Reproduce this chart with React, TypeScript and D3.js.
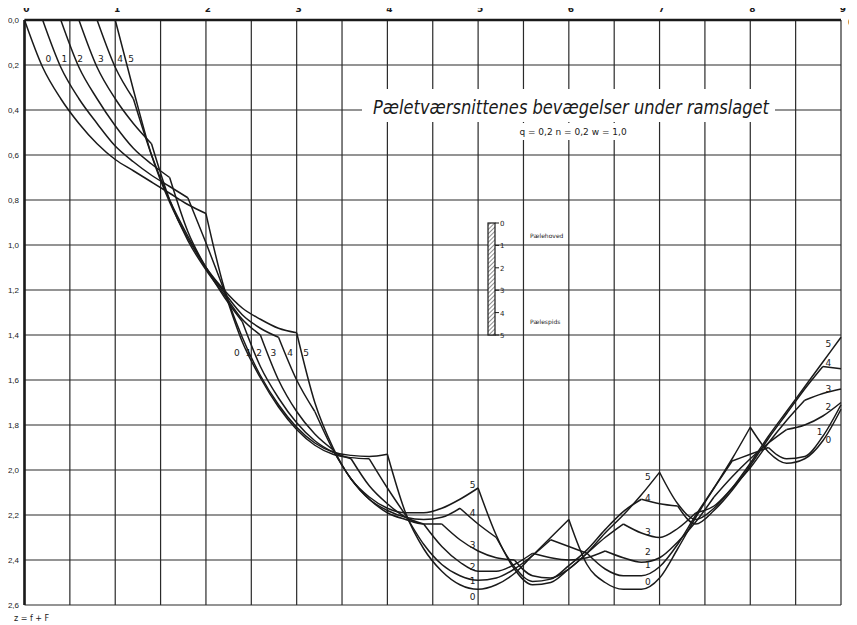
import React from 'react';
import * as d3 from 'd3';

// time axis (top) and displacement axis (left)
const xTickLabels = ['0', '1', '2', '3', '4', '5', '6', '7', '8', '9'];
const yTickLabels = ['0.0', '0.2', '0.4', '0.6', '0.8', '1.0', '1.2', '1.4', '1.6', '1.8', '2.0', '2.2', '2.4', '2.6'];

// z for each section, read every 0.2 time units from its start time
const sec0Z = [0, 0.21, 0.35, 0.46, 0.55, 0.62, 0.67, 0.72, 0.77, 0.82, 0.86,
  1.19, 1.41, 1.58, 1.71, 1.81, 1.88, 1.92, 1.935, 1.94, 1.93,
  2.19, 2.35, 2.45, 2.51, 2.53, 2.51, 2.46, 2.38, 2.30, 2.22,
  2.42, 2.50, 2.53, 2.53, 2.48, 2.35, 2.21, 2.08, 1.95, 1.81,
  1.92, 1.97, 1.95, 1.87, 1.73];
const sec1Z = [0, 0.21, 0.35, 0.46, 0.56, 0.63, 0.69, 0.74, 0.79,
  0.99, 1.20,
  1.43, 1.59, 1.72, 1.82, 1.89, 1.93, 1.945, 1.95,
  2.08, 2.20,
  2.33, 2.42, 2.47, 2.49, 2.48, 2.44, 2.38, 2.31,
  2.34, 2.37,
  2.44, 2.47, 2.47, 2.43, 2.33, 2.20, 2.08, 1.96,
  1.93, 1.90,
  1.95, 1.94, 1.85, 1.71];
const sec2Z = [0, 0.21, 0.35, 0.47, 0.57, 0.64, 0.70,
  0.94, 1.10, 1.23, 1.34,
  1.54, 1.68, 1.79, 1.87, 1.92, 1.95,
  2.07, 2.15, 2.21, 2.24,
  2.34, 2.41, 2.45, 2.45, 2.42, 2.37,
  2.39, 2.40, 2.39, 2.36,
  2.39, 2.41, 2.39, 2.32, 2.23, 2.12,
  2.03, 1.95, 1.88, 1.82,
  1.80, 1.76, 1.70];
const sec3Z = [0, 0.21, 0.35, 0.46, 0.55,
  0.80, 0.98, 1.11, 1.22, 1.33, 1.40,
  1.60, 1.74, 1.84, 1.91,
  2.04, 2.13, 2.19, 2.22, 2.24, 2.24,
  2.31, 2.36, 2.39, 2.40,
  2.47, 2.48, 2.44, 2.37, 2.30, 2.24,
  2.28, 2.30, 2.26, 2.19,
  2.16, 2.08, 1.99, 1.88, 1.78, 1.69,
  1.66, 1.64];
const sec4Z = [0, 0.21, 0.35,
  0.60, 0.80, 0.96, 1.10, 1.21, 1.31, 1.37, 1.41,
  1.60, 1.74,
  1.91, 2.04, 2.13, 2.18, 2.21, 2.22, 2.21, 2.17,
  2.24, 2.30,
  2.43, 2.495, 2.485, 2.425, 2.355, 2.265, 2.185, 2.13,
  2.15, 2.16,
  2.24, 2.18, 2.09, 1.98, 1.86, 1.75, 1.64, 1.54,
  1.55];
const sec5Z = [0, 0.31, 0.60, 0.81, 0.97, 1.10, 1.20, 1.28, 1.33, 1.37, 1.39,
  1.70, 1.90, 2.04, 2.12, 2.17, 2.19, 2.19, 2.17, 2.13, 2.08,
  2.29, 2.44, 2.51, 2.50, 2.44, 2.37, 2.28, 2.20, 2.11, 2.01,
  2.15, 2.22, 2.17, 2.08, 1.97, 1.85, 1.74, 1.63, 1.52, 1.41];

const starts = [0, 0.2, 0.4, 0.6, 0.8, 1.0];
const kinks0 = [2, 4, 6, 8];
const kinks1 = [1.8, 2.2, 3.8, 4.2, 5.8, 6.2, 7.8, 8.2];
const kinks2 = [1.6, 2.4, 3.6, 4.4, 5.6, 6.4, 7.6, 8.4];
const kinks3 = [1.4, 2.6, 3.4, 4.6, 5.4, 6.6, 7.4, 8.6];
const kinks4 = [1.2, 2.8, 3.2, 4.8, 5.2, 6.8, 7.2, 8.8];
const kinks5 = [3, 5, 7];

// section number labels [t, z, text]
const labelsA = [[0.262, 0.175, '0'], [0.439, 0.175, '1'], [0.612, 0.175, '2'], [0.843, 0.175, '3'], [1.053, 0.175, '4'], [1.174, 0.175, '5']];
const labelsB = [[2.34, 1.481, '0'], [2.467, 1.481, '1'], [2.585, 1.481, '2'], [2.743, 1.481, '3'], [2.927, 1.481, '4'], [3.104, 1.481, '5']];
const labelsC = [[4.94, 2.067, '5'], [4.94, 2.19, '4'], [4.94, 2.333, '3'], [4.94, 2.431, '2'], [4.94, 2.492, '1'], [4.94, 2.563, '0']];
const labelsD = [[6.87, 2.032, '5'], [6.87, 2.126, '4'], [6.87, 2.274, '3'], [6.87, 2.365, '2'], [6.87, 2.422, '1'], [6.87, 2.496, '0']];
const labelsE = [[8.862, 1.44, '5'], [8.862, 1.526, '4'], [8.862, 1.641, '3'], [8.862, 1.719, '2'], [8.763, 1.83, '1'], [8.862, 1.867, '0']];

const pileMarks = ['0', '1', '2', '3', '4', '5'];

const x = d3.scaleLinear().domain([0, 9]).range([24.5, 841]);
const y = d3.scaleLinear().domain([0, 2.6]).range([20, 605]);
const pileY = d3.scaleLinear().domain([0, 5]).range([223, 335]);
const ink = '#1a1a1a';
const font = 'DejaVu Sans, sans-serif';

const line = d3.line()
  .x((d) => x(d[0]))
  .y((d) => y(d[1]))
  .curve(d3.curveMonotoneX);

const sections = [
  { start: starts[0], z: sec0Z, kinks: kinks0 },
  { start: starts[1], z: sec1Z, kinks: kinks1 },
  { start: starts[2], z: sec2Z, kinks: kinks2 },
  { start: starts[3], z: sec3Z, kinks: kinks3 },
  { start: starts[4], z: sec4Z, kinks: kinks4 },
  { start: starts[5], z: sec5Z, kinks: kinks5 },
];

// split each trajectory at its kinks so the corners stay sharp
const segmentsOf = (s) => {
  const pts = s.z.map((v, i) => [Math.round((s.start + i * 0.2) * 10) / 10, v]);
  const segs = [];
  let cur = [];
  pts.forEach((p) => {
    cur.push(p);
    if (s.kinks.some((k) => Math.abs(k - p[0]) < 1e-6)) {
      segs.push(cur);
      cur = [p];
    }
  });
  if (cur.length > 1) segs.push(cur);
  return segs;
};

const allLabels = [...labelsA, ...labelsB, ...labelsC, ...labelsD, ...labelsE];

const App = () => {
  const vLines = d3.range(0, 19).map((d) => d * 0.5);
  const hLines = d3.range(0, 14).map((d) => d * 0.2);
  const paths = sections.flatMap((s) => segmentsOf(s).map((seg) => line(seg)));

  return (
    <svg width={857} height={625} style={{ display: 'block', margin: '-8px 0 0 -8px' }}>
      <defs>
        <pattern id="hatch" patternUnits="userSpaceOnUse" width={3} height={3} patternTransform="rotate(45)">
          <rect width={3} height={3} fill="#fff" />
          <line x1={0} y1={0} x2={0} y2={3} stroke="#222" strokeWidth={1} />
        </pattern>
      </defs>
      <rect width={857} height={625} fill="#fff" />

      <g stroke="#2a2a2a" strokeWidth={1.2}>
        {vLines.map((t) => (
          <line key={'v' + t} x1={x(t)} x2={x(t)} y1={y(0)} y2={y(2.6)} />
        ))}
        {hLines.map((z) => (
          <line key={'h' + z} x1={x(0)} x2={x(9)} y1={y(z)} y2={y(z)} />
        ))}
      </g>
      <line x1={x(0)} x2={x(9)} y1={y(0)} y2={y(0)} stroke={ink} strokeWidth={2.6} />
      <line x1={x(0)} x2={x(0)} y1={y(0)} y2={y(2.6)} stroke={ink} strokeWidth={2.6} />

      {xTickLabels.map((d) => (
        <text key={'xl' + d} x={x(+d) + 2} y={12} textAnchor="middle" fontFamily={font} fontSize={9}
          fontWeight="bold" fill={ink}>{d}</text>
      ))}
      {yTickLabels.map((d) => (
        <text key={'yl' + d} x={19} y={y(+d) + 3} textAnchor="end" fontFamily="Liberation Sans, sans-serif"
          fontSize={8} fill={ink}>{d.replace('.', ',')}</text>
      ))}
      <text x={848} y={26} fontFamily={font} fontSize={10} fontWeight="bold" fill={ink}>0</text>
      <text x={14} y={621} fontFamily={font} fontSize={8} fill={ink}>z = f + F</text>

      <rect x={362} y={89} width={413} height={33} fill="#fff" />
      <rect x={515} y={123} width={118} height={17} fill="#fff" />
      <text x={571} y={114} textAnchor="middle" fontFamily={font} fontStyle="italic" fontWeight={300}
        fontSize={19} textLength={396} lengthAdjust="spacingAndGlyphs" fill={ink}>
        Pæletværsnittenes bevægelser under ramslaget
      </text>
      <text x={573} y={135} textAnchor="middle" fontFamily={font} fontSize={9} fill={ink}>
        q = 0,2  n = 0,2  w = 1,0
      </text>

      <g>
        <rect x={488} y={223} width={7} height={112} fill="url(#hatch)" stroke={ink} strokeWidth={1.2} />
        {pileMarks.map((d) => (
          <g key={'pm' + d}>
            <line x1={495} x2={499} y1={pileY(+d)} y2={pileY(+d)} stroke={ink} strokeWidth={1} />
            <text x={500} y={pileY(+d) + 3} fontFamily={font} fontSize={7} fill={ink}>{d}</text>
          </g>
        ))}
        <text x={530} y={238} fontFamily={font} fontSize={6} fill={ink}>Pælehoved</text>
        <text x={530} y={324} fontFamily={font} fontSize={6} fill={ink}>Pælespids</text>
      </g>

      <g fill="none" stroke={ink} strokeWidth={1.5}>
        {paths.map((d, i) => (
          <path key={'c' + i} d={d} />
        ))}
      </g>

      {allLabels.map((d, i) => (
        <text key={'sl' + i} x={x(d[0])} y={y(d[1]) + 3} textAnchor="middle" fontFamily={font} fontSize={9}
          fill={ink}>{d[2]}</text>
      ))}
    </svg>
  );
};

export default App;
